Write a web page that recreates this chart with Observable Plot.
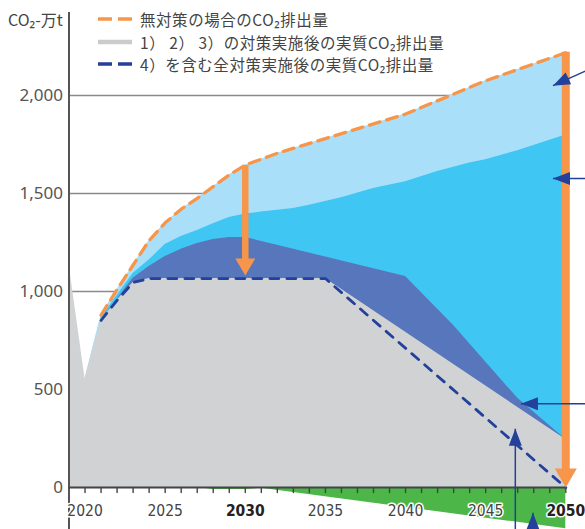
<!DOCTYPE html>
<html><head><meta charset="utf-8">
<script src="https://cdn.jsdelivr.net/npm/d3@7"></script>
<script src="https://cdn.jsdelivr.net/npm/@observablehq/plot@0.6"></script>
<style>
body{margin:0;background:#fff;}
#wrap{position:relative;width:585px;height:529px;overflow:hidden;font-family:"Noto Sans CJK JP","Noto Sans",sans-serif;}
#wrap > svg{position:absolute;left:0;top:0}
.unit{position:absolute;left:8px;top:8px;font-size:16px;line-height:22px;height:22px;color:#444;white-space:nowrap}
.legend{position:absolute;left:97px;top:8px;font-size:15.5px;letter-spacing:0.55px;color:#444;white-space:nowrap}
.row{display:flex;align-items:center;height:22.5px;line-height:22.5px}
.row svg{margin-right:7px;flex:none}
</style></head>
<body>
<div id="wrap">
  <div class="unit">CO₂-万t</div>
  <div class="legend">
    <div class="row"><svg width="36" height="8"><line x1="1" y1="4" x2="35" y2="4" stroke="#f7964a" stroke-width="3.5" stroke-dasharray="14,6"/></svg><span>無対策の場合のCO₂排出量</span></div>
    <div class="row"><svg width="36" height="8"><line x1="1" y1="4" x2="35" y2="4" stroke="#cacbcd" stroke-width="4.5"/></svg><span>1） 2） 3）の対策実施後の実質CO₂排出量</span></div>
    <div class="row"><svg width="36" height="8"><line x1="1" y1="4" x2="35" y2="4" stroke="#23409a" stroke-width="3.5" stroke-dasharray="14,6"/></svg><span>4）を含む全対策実施後の実質CO₂排出量</span></div>
  </div>
</div>
<script>
// ---- data (万t-CO2) ----
const noMeasureYears = [2020, 2021, 2022, 2023, 2024, 2025, 2026, 2027, 2028, 2029, 2030, 2032, 2035, 2040, 2045, 2050];
const noMeasureVals  = [556, 880, 1010, 1135, 1260, 1350, 1420, 1475, 1535, 1595, 1645, 1705, 1780, 1905, 2075, 2218];

const cyanYears = [2021, 2022, 2023, 2024, 2025, 2026, 2027, 2028, 2029, 2030, 2031, 2033, 2034, 2036, 2038, 2040, 2042, 2044, 2045, 2047, 2050];
const cyanVals  = [865, 980, 1092, 1160, 1240, 1280, 1311, 1345, 1378, 1395, 1405, 1423, 1440, 1478, 1525, 1560, 1612, 1655, 1672, 1718, 1798];

const darkYears = [2021, 2022, 2023, 2024, 2025, 2026, 2027, 2028, 2029, 2030, 2040, 2043, 2047, 2050];
const darkVals  = [852, 960, 1068, 1128, 1178, 1215, 1245, 1265, 1276, 1276, 1076, 826, 455, 245];

const grayYears = [2019, 2020, 2021, 2022, 2023, 2024, 2035, 2050];
const grayVals  = [1140, 556, 852, 955, 1046, 1066, 1066, 245];

const allMeasureYears = [2021, 2022, 2023, 2024, 2035, 2050];
const allMeasureVals  = [852, 955, 1046, 1066, 1066, 0];

const sinkYears = [2027, 2028, 2030, 2031, 2050];
const sinkVals  = [0, -10, -10, -4, -210];

const yTicks = [0, 500, 1000, 1500, 2000];
const gridVals = [1000, 1500, 2000];
const tickYears = d3.range(2020, 2051);
const labelYears = [2020, 2025, 2035, 2040, 2045];
const boldYears = [2030, 2050];

// annotation arrows (data units)
const orangeArrows = [
  {x: 2030, from: 1643, to: 1160, tip: 1081},
  {x: 2050, from: 2220, to: 85, tip: 0}
];
const navyArrows = [
  {x1: 2051.3, y1: 2127, x2: 2049.2, y2: 2050, rot: 245},
  {x1: 2051.3, y1: 1576, x2: 2049.2, y2: 1576, rot: 270},
  {x1: 2051.3, y1: 428,  x2: 2047.2, y2: 428,  rot: 270},
  {x1: 2046.85, y1: -214, x2: 2046.85, y2: 300, rot: 0},
  {x1: 2047.95, y1: -214, x2: 2047.95, y2: -128, rot: 0}
];

const toRows = (ys, vs) => ys.map((year, i) => ({year, v: vs[i]}));
const X0 = 2019, X1 = 2050;
const yDomain = [-214, 2423];

const headShape = (w, h) => ({
  draw(ctx) { ctx.moveTo(0, 0); ctx.lineTo(-w / 2, h); ctx.lineTo(w / 2, h); ctx.closePath(); }
});
const tickShape = { draw(ctx, l) { ctx.moveTo(0, 0); ctx.lineTo(0, -l); } };

const C = {light: "#a9dff8", cyan: "#3fc6f3", dark: "#5776bb", gray: "#d1d2d4", green: "#4cb748", orange: "#f7964a", navy: "#23409a"};
const xFont = "'DejaVu Sans Condensed', 'DejaVu Sans', sans-serif";

const chart = Plot.plot({
  width: 585, height: 529,
  x: {domain: [X0, X1], range: [68.5, 565.3], axis: null},
  y: {domain: yDomain, range: [529, 12], axis: null},
  style: {fontFamily: "'Noto Sans', sans-serif", background: "transparent", overflow: "visible"},
  marks: [
    Plot.ruleY(gridVals, {x1: () => X0, x2: () => X1, stroke: "#8a8a8a", strokeWidth: 1.5}),
    Plot.areaY(toRows(noMeasureYears, noMeasureVals), {x: "year", y1: () => 0, y2: "v", fill: C.light}),
    Plot.areaY(toRows(cyanYears, cyanVals), {x: "year", y1: () => 0, y2: "v", fill: C.cyan}),
    Plot.areaY(toRows(darkYears, darkVals), {x: "year", y1: () => 0, y2: "v", fill: C.dark}),
    Plot.areaY(toRows(grayYears, grayVals), {x: "year", y1: () => 0, y2: "v", fill: C.gray}),
    Plot.areaY(toRows(sinkYears, sinkVals), {x: "year", y1: () => 0, y2: "v", fill: C.green}),
    Plot.line(toRows(noMeasureYears, noMeasureVals).filter(d => d.year >= 2021), {x: "year", y: "v", stroke: C.orange, strokeWidth: 3.3, strokeDasharray: "11,7"}),
    Plot.line(toRows(allMeasureYears, allMeasureVals), {x: "year", y: "v", stroke: C.navy, strokeWidth: 2.8, strokeDasharray: "9,8"}),
    // axes
    Plot.ruleX([X0], {y1: () => yDomain[0], y2: () => yDomain[1], stroke: "#555", strokeWidth: 2}),
    Plot.ruleY([0], {x1: () => X0, x2: () => X1, stroke: "#444", strokeWidth: 2}),
    Plot.vector(tickYears, {x: d => d, y: () => 0, length: 5, rotate: 180, anchor: "start", shape: tickShape, stroke: "#444", strokeWidth: 1.4}),
    Plot.text(yTicks, {x: () => X0, y: d => d, dx: -6, textAnchor: "end", text: d => d3.format(",")(d), fontSize: 17, fill: "#555"}),
    Plot.text(labelYears, {x: d => d, y: () => 0, dy: 23, text: d => String(d), fontFamily: xFont, fontSize: 15.5, fill: "#444", stroke: "white", strokeWidth: 3}),
    Plot.text(boldYears, {x: d => d, y: () => 0, dy: 23, text: d => String(d), fontFamily: xFont, fontSize: 15.5, fontWeight: "bold", fill: "#222", stroke: "white", strokeWidth: 3}),
    // orange arrows
    Plot.ruleX(orangeArrows.slice(0, 1), {x: "x", y1: "from", y2: "to", stroke: C.orange, strokeWidth: 6.5}),
    Plot.ruleX(orangeArrows.slice(1), {x: "x", y1: "from", y2: "to", stroke: C.orange, strokeWidth: 8}),
    Plot.vector(orangeArrows.slice(0, 1), {x: "x", y: "tip", length: 10, rotate: 180, anchor: "start", shape: headShape(20, 17), fill: C.orange, stroke: "none"}),
    Plot.vector(orangeArrows.slice(1), {x: "x", y: "tip", length: 10, rotate: 180, anchor: "start", shape: headShape(22, 19), fill: C.orange, stroke: "none"}),
    // navy pointer arrows
    Plot.link(navyArrows, {x1: "x1", y1: "y1", x2: "x2", y2: "y2", stroke: C.navy, strokeWidth: 1.5}),
    Plot.vector(navyArrows, {x: "x2", y: "y2", length: 10, rotate: "rot", anchor: "start", shape: headShape(13, 17), fill: C.navy, stroke: "none"})
  ]
});
document.getElementById("wrap").prepend(chart);
</script>
</body></html>
